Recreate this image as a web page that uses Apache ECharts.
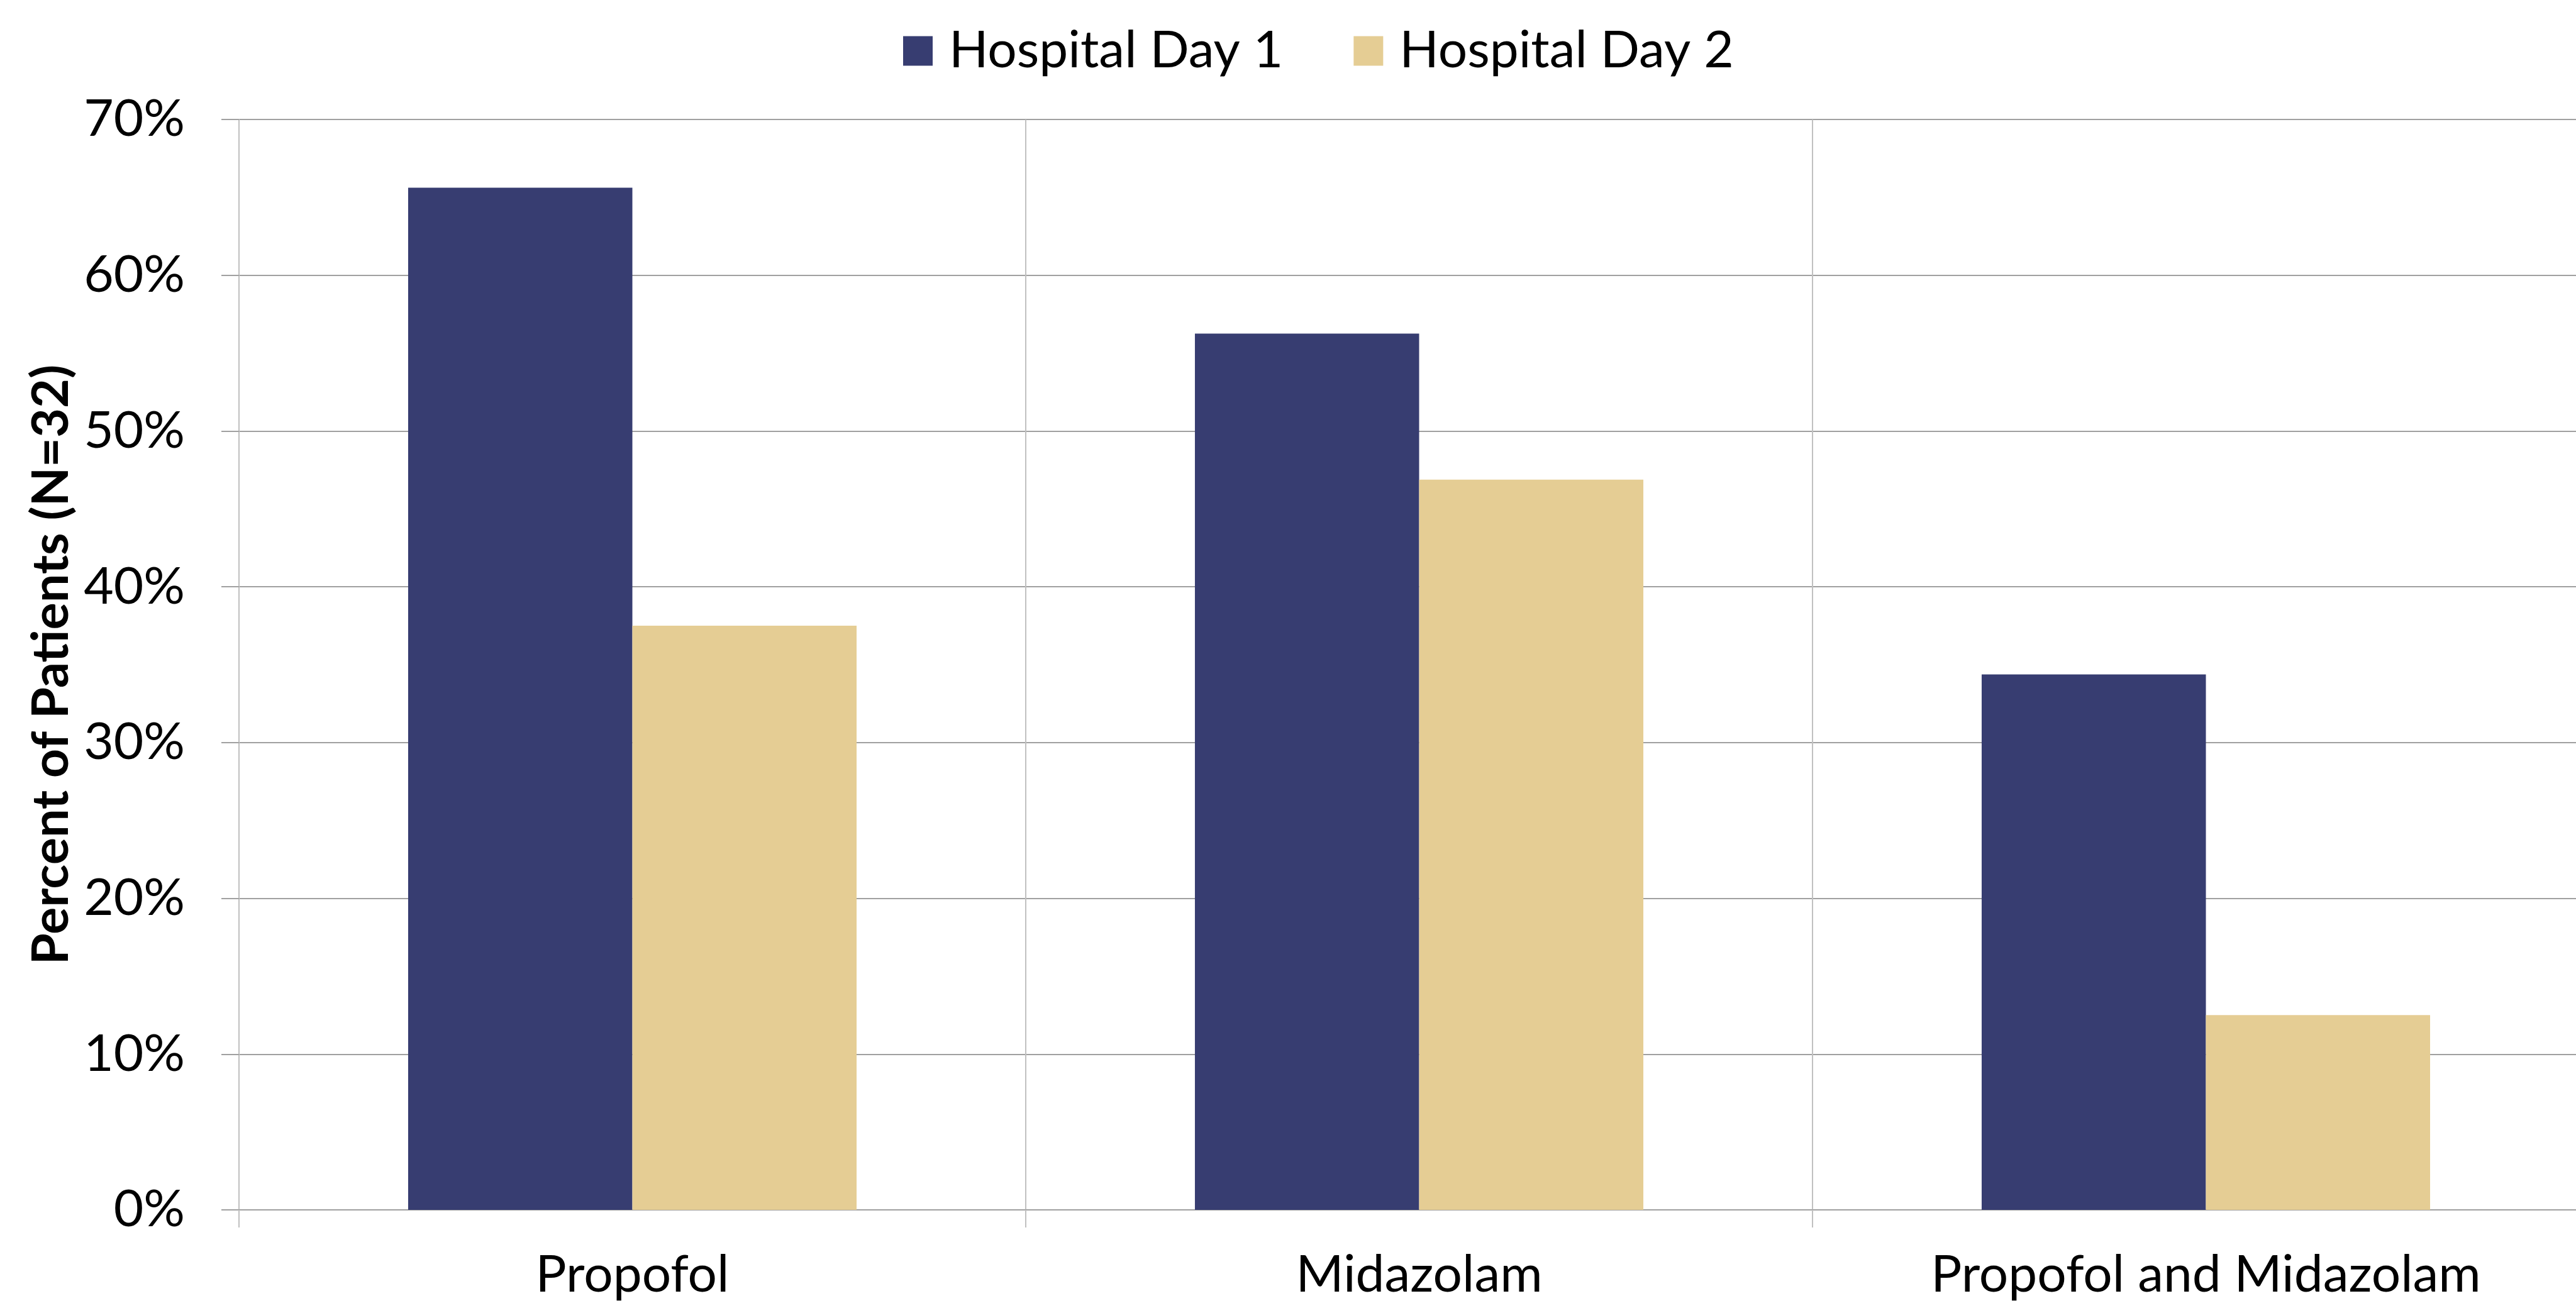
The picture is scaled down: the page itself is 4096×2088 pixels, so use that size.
<!DOCTYPE html>
<html>
<head>
<meta charset="utf-8">
<script src="https://cdn.jsdelivr.net/npm/echarts@6/dist/echarts.min.js"></script>
<style>
html,body{margin:0;padding:0;background:#fff;overflow:hidden;}
#chart{width:4160px;height:2088px;}
</style>
</head>
<body>
<div id="chart"></div>
<script>
const categories = ['Propofol', 'Midazolam', 'Propofol and Midazolam'];
const seriesNames = ['Hospital Day 1', 'Hospital Day 2'];
const day1 = [0.65625, 0.5625, 0.34375];
const day2 = [0.375, 0.46875, 0.125];
const yTicks = [0, 0.1, 0.2, 0.3, 0.4, 0.5, 0.6, 0.7];

const FONT = 'Lato';
const chart = echarts.init(document.getElementById('chart'), null, {renderer: 'canvas'});
chart.setOption({
  backgroundColor: '#ffffff',
  animation: false,
  textStyle: {fontFamily: FONT, color: '#000'},
  legend: {
    left: 1431,
    top: 35,
    itemWidth: 47,
    itemHeight: 47,
    itemGap: 112,
    icon: 'rect',
    textStyle: {fontFamily: FONT, fontSize: 82, color: '#000', padding: [0, 0, 0, 21]},
    data: seriesNames
  },
  grid: {left: 380, top: 190, width: 3753, height: 1734, containLabel: false},
  xAxis: {
    type: 'category',
    data: categories,
    axisLine: {show: true, lineStyle: {color: '#a0a0a0', width: 2}},
    axisTick: {show: true, length: 28, lineStyle: {color: '#c0c0c0', width: 2}},
    splitLine: {show: true, lineStyle: {color: '#c0c0c0', width: 2}},
    axisLabel: {fontFamily: FONT, fontSize: 82, color: '#000', margin: 63}
  },
  yAxis: {
    type: 'value',
    min: yTicks[0],
    max: yTicks[yTicks.length - 1],
    interval: 0.1,
    name: 'Percent of Patients (N=32)',
    nameLocation: 'middle',
    nameGap: 254,
    nameTextStyle: {fontFamily: FONT, fontSize: 81, fontWeight: 'bold', color: '#000'},
    axisLine: {show: true, lineStyle: {color: '#c0c0c0', width: 2}},
    axisTick: {show: true, length: 28, lineStyle: {color: '#a0a0a0', width: 2}},
    splitLine: {show: true, lineStyle: {color: '#a0a0a0', width: 2}},
    axisLabel: {
      fontFamily: FONT, fontSize: 82, color: '#000', margin: 86,
      formatter: v => Math.round(v * 100) + '%'
    }
  },
  series: [
    {name: seriesNames[0], type: 'bar', data: day1, barGap: '0%', barCategoryGap: '43%',
     itemStyle: {color: '#373D71'}},
    {name: seriesNames[1], type: 'bar', data: day2, barGap: '0%', barCategoryGap: '43%',
     itemStyle: {color: '#E5CD94'}}
  ]
});
</script>
</body>
</html>
